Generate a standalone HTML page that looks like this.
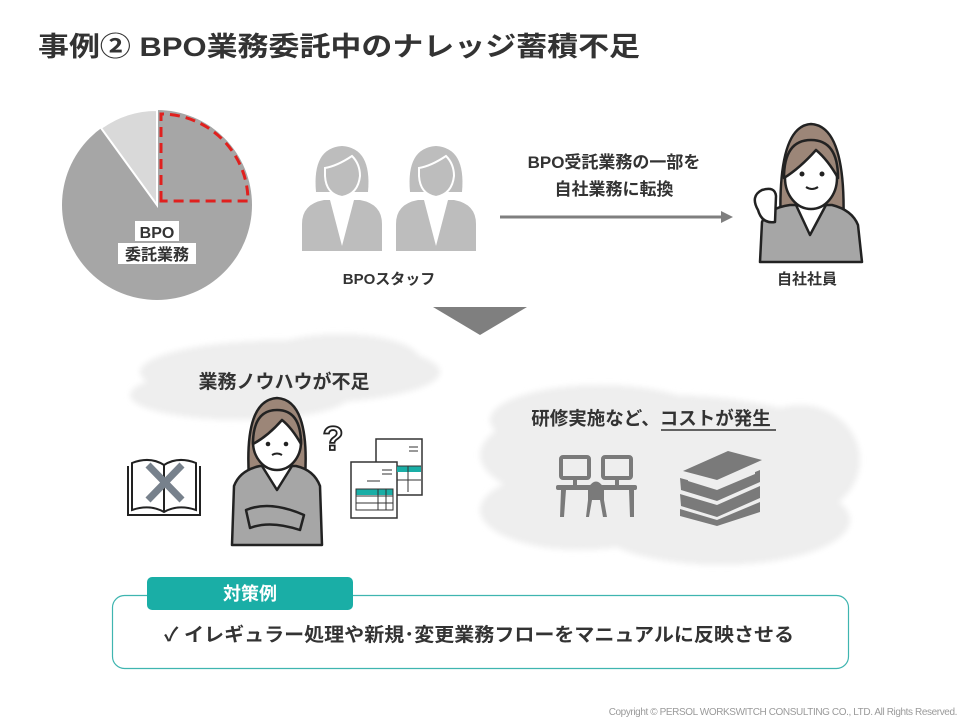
<!DOCTYPE html>
<html><head><meta charset="utf-8"><style>
html,body{margin:0;padding:0;background:#fff}
svg{display:block}
text{font-family:"Liberation Sans","Noto Sans CJK JP",sans-serif;font-weight:bold;fill:#333}
</style></head><body>
<svg width="960" height="720" viewBox="0 0 960 720" xmlns="http://www.w3.org/2000/svg">
<defs>
<filter id="bl" x="-20%" y="-20%" width="140%" height="140%"><feGaussianBlur stdDeviation="3"/></filter>
<g id="staff">
  <path d="M-40 105 L-40 78 Q-40 58 -18 54 L18 54 Q40 58 40 78 L40 105 Z" fill="#bdbdbd"/>
  <path d="M-12 54 L0 100 L12 54 Z" fill="#fff"/>
  <path d="M-26 46 Q-30 2 0 0 Q30 2 26 46 Z" fill="#bdbdbd"/>
  <path d="M-17 22 Q-5 20 10 10 Q18 18 18 30 Q16 48 0 51 Q-16 48 -17 30Z" fill="#bdbdbd" stroke="#fff" stroke-width="2"/>
  <path d="M-8 52 Q0 58 8 52" stroke="#fff" stroke-width="2" fill="none"/>
</g>
<g id="woman">
  <path d="M-30 62 Q-34 -16 0 -20 Q34 -16 30 62 Z" fill="#9c8678"/>
  <ellipse cx="0" cy="18" rx="26" ry="30" fill="#fff"/>
  <path d="M-27 20 Q-26 -14 0 -16 Q26 -14 27 20 Q20 0 6 -4 Q-6 10 -27 20Z" fill="#9c8678"/>
</g>
</defs>

<text x="38" y="56" font-size="27" textLength="602" lengthAdjust="spacingAndGlyphs">事例② BPO業務委託中のナレッジ蓄積不足</text>

<!-- pie -->
<circle cx="157" cy="205" r="95" fill="#a6a6a6"/>
<path d="M157 205 L157 110 A95 95 0 0 0 101 128 Z" fill="#d9d9d9" stroke="#fff" stroke-width="2"/>
<line x1="157" y1="205" x2="157" y2="110" stroke="#fff" stroke-width="2"/>
<path d="M161 201 L161 114 A87 87 0 0 1 248 201 Z" fill="none" stroke="#e0201e" stroke-width="3" stroke-dasharray="10 6"/>
<rect x="135" y="221" width="44" height="20" fill="#fff"/>
<rect x="118" y="243" width="78" height="21" fill="#fff"/>
<text x="157" y="238" font-size="16" text-anchor="middle">BPO</text>
<text x="157" y="260" font-size="16" text-anchor="middle">委託業務</text>

<!-- staff -->
<use href="#staff" transform="translate(342,146)"/>
<use href="#staff" transform="translate(436,146)"/>
<text x="389" y="284" font-size="15" text-anchor="middle">BPOスタッフ</text>

<text x="614" y="168" font-size="17" text-anchor="middle">BPO受託業務の一部を</text>
<text x="614" y="195" font-size="17" text-anchor="middle">自社業務に転換</text>
<line x1="500" y1="217" x2="722" y2="217" stroke="#7f7f7f" stroke-width="3"/>
<path d="M721 211 L733 217 L721 223Z" fill="#7f7f7f"/>

<!-- employee -->
<g stroke="#222" stroke-width="2.5" stroke-linejoin="round">
  <path d="M781 232 Q776 126 811 124 Q848 126 843 232 Z" fill="#9c8678"/>
  <path d="M760 262 L762 222 Q768 208 790 205 L832 205 Q852 210 858 225 L862 262 Z" fill="#a6a6a6"/>
  <path d="M796 205 L810 235 L826 205 Z" fill="#fff"/>
  <ellipse cx="811" cy="178" rx="26" ry="31" fill="#fff"/>
  <path d="M784 178 Q784 140 811 140 Q838 140 838 178 Q828 160 816 150 Q800 168 784 178Z" fill="#9c8678"/>
  <path d="M758 210 Q750 196 762 190 Q775 186 776 196 L775 222 Q762 224 758 210Z" fill="#fff"/>
</g>
<circle cx="802" cy="174" r="2.5" fill="#222"/><circle cx="822" cy="174" r="2.5" fill="#222"/>
<path d="M806 187 Q812 191 818 187" stroke="#222" stroke-width="2" fill="none"/>
<text x="807" y="284" font-size="15" text-anchor="middle">自社社員</text>

<path d="M433 307 L527 307 L480 335Z" fill="#7f7f7f"/>

<!-- clouds -->
<g fill="#eeeeee" filter="url(#bl)">
  <ellipse cx="290" cy="372" rx="150" ry="32"/>
  <ellipse cx="240" cy="395" rx="110" ry="25"/>
  <ellipse cx="340" cy="360" rx="80" ry="26"/>
  <ellipse cx="665" cy="455" rx="185" ry="60"/>
  <ellipse cx="600" cy="420" rx="110" ry="35"/>
  <ellipse cx="720" cy="520" rx="130" ry="45"/>
  <ellipse cx="580" cy="510" rx="100" ry="40"/>
  <ellipse cx="800" cy="460" rx="60" ry="55"/>
</g>
<text x="284" y="388" font-size="19" text-anchor="middle">業務ノウハウが不足</text>

<!-- book with X -->
<g stroke="#222" stroke-width="2" fill="#fff">
  <path d="M128 466 L128 515 L200 515 L200 466"/>
  <path d="M132 463 Q150 456 164 465 Q178 456 196 463 L196 510 Q178 504 164 512 Q150 504 132 510Z"/>
  <line x1="164" y1="465" x2="164" y2="512"/>
</g>
<g stroke="#77818c" stroke-width="7"><line x1="148" y1="465" x2="182" y2="500"/><line x1="182" y1="465" x2="148" y2="500"/></g>
<!-- worried woman -->
<g stroke="#222" stroke-width="2.5" stroke-linejoin="round">
  <path d="M249 478 Q244 400 277 398 Q310 400 305 478Z" fill="#9c8678"/>
  <path d="M232 545 L234 486 Q240 470 260 466 L296 466 Q314 470 320 486 L322 545Z" fill="#a6a6a6"/>
  <path d="M262 466 L277 490 L292 466Z" fill="#fff"/>
  <ellipse cx="277" cy="442" rx="24" ry="28" fill="#fff"/>
  <path d="M253 444 Q253 410 277 410 Q301 410 301 444 Q292 428 282 420 Q268 436 253 444Z" fill="#9c8678"/>
  <path d="M246 510 Q270 500 304 515 L300 530 Q270 520 250 528Z" fill="#a6a6a6"/>
</g>
<circle cx="268" cy="444" r="2.3" fill="#222"/><circle cx="286" cy="444" r="2.3" fill="#222"/>
<path d="M272 455 Q277 452 282 455" stroke="#222" stroke-width="2" fill="none"/>
<text x="333" y="450" font-size="34" fill="#fff" style="fill:#fff" stroke="#222" stroke-width="1.8" text-anchor="middle">?</text>
<!-- documents -->
<g stroke="#333" stroke-width="1.5" fill="#fff">
  <rect x="376" y="439" width="46" height="56"/>
  <rect x="351" y="462" width="46" height="56"/>
</g>
<rect x="397" y="466" width="24" height="6" fill="#1aaea6"/>
<rect x="356" y="489" width="37" height="6" fill="#1aaea6"/>
<g stroke="#333" stroke-width="1" fill="none">
  <rect x="356" y="489" width="37" height="21"/><line x1="356" y1="496" x2="393" y2="496"/><line x1="356" y1="503" x2="393" y2="503"/><line x1="378" y1="489" x2="378" y2="510"/><line x1="386" y1="489" x2="386" y2="510"/>
  <line x1="367" y1="481" x2="380" y2="481"/><line x1="382" y1="470" x2="392" y2="470"/><line x1="382" y1="474" x2="392" y2="474"/>
  <line x1="409" y1="447" x2="418" y2="447"/><line x1="409" y1="451" x2="418" y2="451"/><line x1="397" y1="466" x2="421" y2="466"/><line x1="397" y1="480" x2="421" y2="480"/><line x1="408" y1="466" x2="408" y2="492"/>
</g>

<!-- right cloud content -->
<text x="651" y="425" font-size="18.5" text-anchor="middle">研修実施など、コストが発生</text>
<line x1="661" y1="430" x2="776" y2="430" stroke="#333" stroke-width="1.5"/>
<g fill="#7a7a7a">
  <rect x="561" y="457" width="28" height="21" rx="2" fill="none" stroke="#7a7a7a" stroke-width="4"/>
  <rect x="603" y="457" width="28" height="21" rx="2" fill="none" stroke="#7a7a7a" stroke-width="4"/>
  <rect x="573" y="478" width="4" height="8"/><rect x="615" y="478" width="4" height="8"/>
  <rect x="556" y="485" width="81" height="5" rx="2"/>
  <path d="M561 490 L566 490 L564 517 L560 517Z M629 490 L634 490 L634 517 L630 517Z"/>
  <path d="M588 488 Q596 475 604 488 L604 500 L588 500Z"/>
  <path d="M588 500 L592 500 L589 517 L586 517Z M600 500 L604 500 L607 517 L603 517Z"/>
  <path d="M683 471 L728 451 L762 460 L717 480Z"/>
  <path d="M680 478 L717 488 L760 470 L760 482 L717 501 L681 490Z"/>
  <path d="M680 494 L717 505 L760 486 L760 498 L717 517 L681 506Z"/>
  <path d="M680 509 L717 520 L760 502 L760 512 L717 526 L680 516Z"/>
</g>
<g fill="#eee"><path d="M688 474 L717 483 L755 467 L755 474 L717 490 L688 481Z"/></g>

<!-- countermeasure box -->
<rect x="112.5" y="595.5" width="736" height="73" rx="12" fill="#fff" stroke="#3fb5b0" stroke-width="1.2"/>
<rect x="147" y="577" width="206" height="33" rx="5" fill="#1aaea6"/>
<text x="250" y="600" font-size="18" fill="#fff" style="fill:#fff" text-anchor="middle">対策例</text>
<text x="164" y="641" font-size="19" textLength="630" lengthAdjust="spacingAndGlyphs">✓ イレギュラー処理や新規･変更業務フローをマニュアルに反映させる</text>

<text x="957" y="715" font-size="10" text-anchor="end" style="font-weight:normal;fill:#9a9a9a" letter-spacing="-0.4">Copyright © PERSOL WORKSWITCH CONSULTING CO., LTD. All Rights Reserved.</text>
</svg>
</body></html>
